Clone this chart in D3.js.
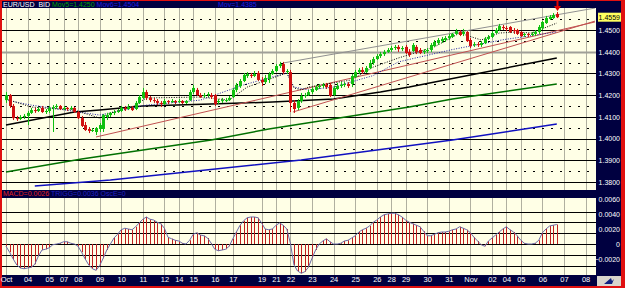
<!DOCTYPE html>
<html><head><meta charset="utf-8">
<script src="https://cdn.jsdelivr.net/npm/d3@7"></script>
<style>html,body{margin:0;padding:0;background:#fff}svg{display:block}text{font-family:"Liberation Sans",Arial,sans-serif}</style>
</head><body><svg id="c" width="625" height="288"></svg>
<script>
// ---------- DATA ----------
const dayLabels = ["Oct","04","05","07","08","09","10","11","12","14","15","16","17","19","21","22","23","24","25","26","28","29","30","31","Nov","02","04","05","06","07","08"];
const dayBars   = [0,6,12,16,20,26,32,38,44,48,52,58,63,71,75,79,85,91,97,103,107,111,117,123,129,135,139,143,149,155,161];

const opens = [1.4177,1.4200,1.4150,1.4094,1.4090,1.4099,1.4104,1.4118,1.4131,1.4127,
1.4141,1.4122,1.4127,1.4141,1.4145,1.4150,1.4136,1.4141,1.4136,1.4141,
1.4122,1.4094,1.4062,1.4044,1.4035,1.4030,1.4044,1.4044,1.4099,1.4108,
1.4118,1.4122,1.4127,1.4141,1.4136,1.4141,1.4136,1.4164,1.4187,1.4214,
1.4187,1.4177,1.4173,1.4164,1.4159,1.4173,1.4168,1.4173,1.4168,1.4173,
1.4164,1.4177,1.4214,1.4224,1.4200,1.4196,1.4200,1.4200,1.4200,1.4168,
1.4173,1.4173,1.4177,1.4191,1.4224,1.4242,1.4265,1.4288,1.4293,1.4288,
1.4302,1.4270,1.4260,1.4274,1.4297,1.4311,1.4334,1.4343,1.4311,1.4306,
1.4164,1.4141,1.4173,1.4196,1.4200,1.4214,1.4224,1.4237,1.4242,1.4247,
1.4247,1.4200,1.4228,1.4242,1.4247,1.4251,1.4251,1.4283,1.4306,1.4316,
1.4306,1.4325,1.4348,1.4366,1.4380,1.4389,1.4399,1.4408,1.4417,1.4422,
1.4412,1.4422,1.4399,1.4403,1.4422,1.4408,1.4399,1.4403,1.4408,1.4426,
1.4440,1.4449,1.4454,1.4463,1.4468,1.4482,1.4491,1.4482,1.4491,1.4454,
1.4431,1.4435,1.4431,1.4440,1.4459,1.4468,1.4486,1.4500,1.4514,1.4509,
1.4514,1.4500,1.4500,1.4491,1.4477,1.4482,1.4477,1.4482,1.4491,1.4509,
1.4532,1.4551,1.4555,1.4574];
const highs = [1.4214,1.4205,1.4159,1.4104,1.4108,1.4113,1.4127,1.4141,1.4141,1.4145,
1.4150,1.4136,1.4150,1.4154,1.4159,1.4154,1.4150,1.4145,1.4150,1.4145,
1.4127,1.4104,1.4076,1.4053,1.4048,1.4053,1.4071,1.4113,1.4118,1.4122,
1.4131,1.4136,1.4150,1.4150,1.4159,1.4150,1.4173,1.4200,1.4233,1.4224,
1.4196,1.4187,1.4182,1.4173,1.4182,1.4177,1.4182,1.4177,1.4182,1.4177,
1.4177,1.4224,1.4247,1.4233,1.4210,1.4210,1.4214,1.4210,1.4205,1.4182,
1.4187,1.4187,1.4196,1.4233,1.4256,1.4274,1.4302,1.4306,1.4302,1.4311,
1.4311,1.4283,1.4293,1.4306,1.4320,1.4343,1.4353,1.4353,1.4320,1.4316,
1.4177,1.4182,1.4210,1.4210,1.4224,1.4237,1.4247,1.4251,1.4256,1.4256,
1.4256,1.4242,1.4256,1.4260,1.4260,1.4260,1.4297,1.4316,1.4325,1.4329,
1.4334,1.4362,1.4376,1.4389,1.4399,1.4408,1.4417,1.4426,1.4431,1.4431,
1.4426,1.4431,1.4412,1.4440,1.4431,1.4417,1.4412,1.4417,1.4440,1.4454,
1.4463,1.4468,1.4472,1.4482,1.4486,1.4505,1.4500,1.4505,1.4495,1.4463,
1.4445,1.4445,1.4449,1.4468,1.4477,1.4495,1.4509,1.4528,1.4523,1.4518,
1.4518,1.4509,1.4505,1.4495,1.4486,1.4486,1.4491,1.4500,1.4523,1.4541,
1.4565,1.4569,1.4578,1.4583];
const lows = [1.4164,1.4141,1.4085,1.4081,1.4085,1.4090,1.4062,1.4113,1.4118,1.4122,
1.4118,1.4113,1.4118,1.4030,1.4136,1.4131,1.4131,1.4127,1.4131,1.4118,
1.4090,1.4053,1.4035,1.4025,1.4030,1.4016,1.4030,1.4030,1.4085,1.4099,
1.4108,1.4118,1.4122,1.4127,1.4131,1.4127,1.4131,1.4159,1.4182,1.4177,
1.4168,1.4164,1.4154,1.4145,1.4154,1.4159,1.4164,1.4159,1.4164,1.4159,
1.4159,1.4173,1.4205,1.4196,1.4187,1.4187,1.4191,1.4182,1.4150,1.4159,
1.4164,1.4168,1.4173,1.4187,1.4214,1.4233,1.4260,1.4279,1.4279,1.4283,
1.4265,1.4242,1.4251,1.4256,1.4293,1.4306,1.4325,1.4297,1.4297,1.4122,
1.4118,1.4131,1.4164,1.4187,1.4196,1.4205,1.4219,1.4228,1.4233,1.4228,
1.4191,1.4196,1.4224,1.4233,1.4237,1.4233,1.4237,1.4279,1.4297,1.4297,
1.4302,1.4320,1.4339,1.4362,1.4371,1.4380,1.4394,1.4399,1.4408,1.4399,
1.4403,1.4389,1.4376,1.4399,1.4389,1.4389,1.4389,1.4394,1.4399,1.4422,
1.4431,1.4440,1.4445,1.4454,1.4463,1.4477,1.4472,1.4472,1.4445,1.4417,
1.4422,1.4422,1.4422,1.4435,1.4454,1.4463,1.4482,1.4495,1.4500,1.4495,
1.4486,1.4482,1.4477,1.4468,1.4468,1.4468,1.4472,1.4472,1.4482,1.4500,
1.4528,1.4546,1.4551,1.4555];
const closes = [1.4200,1.4150,1.4094,1.4090,1.4099,1.4104,1.4118,1.4131,1.4127,1.4136,
1.4122,1.4127,1.4141,1.4145,1.4150,1.4136,1.4141,1.4136,1.4141,1.4122,
1.4094,1.4058,1.4039,1.4035,1.4039,1.4048,1.4062,1.4108,1.4108,1.4118,
1.4122,1.4127,1.4141,1.4136,1.4145,1.4131,1.4164,1.4191,1.4214,1.4187,
1.4177,1.4173,1.4164,1.4159,1.4173,1.4168,1.4173,1.4168,1.4173,1.4164,
1.4173,1.4214,1.4233,1.4200,1.4191,1.4200,1.4205,1.4191,1.4159,1.4173,
1.4177,1.4177,1.4187,1.4224,1.4247,1.4265,1.4293,1.4297,1.4288,1.4297,
1.4270,1.4260,1.4279,1.4297,1.4311,1.4334,1.4343,1.4306,1.4311,1.4164,
1.4136,1.4173,1.4196,1.4200,1.4214,1.4228,1.4237,1.4242,1.4247,1.4237,
1.4196,1.4233,1.4242,1.4247,1.4251,1.4242,1.4288,1.4306,1.4316,1.4306,
1.4325,1.4348,1.4366,1.4380,1.4389,1.4399,1.4408,1.4417,1.4422,1.4412,
1.4417,1.4394,1.4385,1.4431,1.4399,1.4394,1.4403,1.4408,1.4431,1.4445,
1.4454,1.4459,1.4463,1.4472,1.4482,1.4495,1.4477,1.4491,1.4449,1.4426,
1.4435,1.4431,1.4440,1.4459,1.4468,1.4486,1.4500,1.4518,1.4509,1.4505,
1.4491,1.4495,1.4482,1.4472,1.4482,1.4477,1.4482,1.4491,1.4514,1.4537,
1.4555,1.4560,1.4569,1.4559];

const macd = [-0.0003,-0.0011,-0.0020,-0.0028,-0.0032,-0.0033,-0.0032,-0.0031,-0.0027,-0.0016,
-0.0008,-0.0007,-0.0005,-0.0001,0.0000,0.0001,0.0003,0.0003,0.0001,0.0000,
-0.0003,-0.0011,-0.0020,-0.0028,-0.0033,-0.0035,-0.0029,-0.0019,-0.0008,0.0000,
0.0008,0.0013,0.0019,0.0021,0.0020,0.0019,0.0023,0.0028,0.0033,0.0036,
0.0033,0.0032,0.0029,0.0027,0.0021,0.0009,0.0007,0.0005,0.0004,0.0001,
0.0000,0.0005,0.0013,0.0015,0.0012,0.0011,0.0008,0.0001,-0.0007,-0.0009,
-0.0008,-0.0007,-0.0003,0.0007,0.0016,0.0025,0.0031,0.0035,0.0036,0.0036,
0.0035,0.0028,0.0020,0.0019,0.0020,0.0025,0.0028,0.0025,0.0020,0.0001,
-0.0028,-0.0036,-0.0039,-0.0037,-0.0031,-0.0019,-0.0008,0.0000,0.0004,0.0007,
0.0003,0.0000,0.0000,0.0001,0.0004,0.0005,0.0008,0.0011,0.0016,0.0019,
0.0021,0.0024,0.0029,0.0032,0.0036,0.0039,0.0040,0.0041,0.0041,0.0039,
0.0036,0.0032,0.0029,0.0027,0.0025,0.0023,0.0017,0.0011,0.0011,0.0013,
0.0015,0.0016,0.0016,0.0017,0.0019,0.0020,0.0023,0.0021,0.0019,0.0015,
0.0009,0.0004,-0.0001,-0.0003,0.0004,0.0008,0.0012,0.0016,0.0020,0.0023,
0.0019,0.0016,0.0011,0.0005,0.0001,0.0000,0.0000,0.0001,0.0005,0.0015,
0.0020,0.0024,0.0025,0.0026];

// moving-average lines (bar index, price)
const maLongBars  = [0,19,26,38,57,74,91,104,112,129,153];
const maLongVals  = [1.4062,1.4122,1.4131,1.4150,1.4159,1.4168,1.4182,1.4214,1.4237,1.4293,1.4371];
const maGreenBars = [0,21,57,73,112,124,153];
const maGreenVals = [1.3846,1.3906,1.3993,1.4044,1.4145,1.4182,1.4251];
const maBlueBars  = [8,29,82,124,153];
const maBlueVals  = [1.3781,1.3809,1.3901,1.3993,1.4067];
const maFastBars  = [0,7,19,26,29,35,39,54,62,67,78,80,82,84,96,102,109,119,126,132,137,142,146,153];
const maFastVals  = [1.4182,1.4145,1.4131,1.4094,1.4118,1.4145,1.4187,1.4191,1.4177,1.4237,1.4302,1.4233,1.4224,1.4237,1.4270,1.4329,1.4371,1.4422,1.4486,1.4454,1.4486,1.4491,1.4486,1.4532];
const maMidBars   = [0,7,26,39,54,66,78,80,84,91,102,109,124,138,153];
const maMidVals   = [1.4177,1.4154,1.4108,1.4154,1.4177,1.4247,1.4302,1.4237,1.4224,1.4237,1.4290,1.4353,1.4410,1.4455,1.4491];

// trend lines [bar0, price0, bar1, price1]
const trendRedA = [25, 1.4007, 163.6, 1.4537];
const trendRedB = [79.7, 1.4122, 163.6, 1.4541];
const trendGrey = [77, 1.4348, 163.6, 1.4601];

const priceTicks = [1.38,1.39,1.40,1.41,1.42,1.43,1.44,1.45];
const priceHalf  = [1.385,1.395,1.405,1.415,1.425,1.435,1.445,1.455];
const macdTicks  = [0.006,0.004,0.002,0,-0.002];
const macdLevels = [0.0043,0.0029,0.0015,0,-0.0015,-0.0029];

// ---------- LAYOUT ----------
const W=625,H=288;
const L=2,R=596,mainT=8,mainB=190,macdT=198,macdB=275;
const svg=d3.select("#c");
const x=d3.scaleLinear().domain([-1.111,163.889]).range([L,R]);
const y=d3.scaleLinear().domain([1.37627,1.46014]).range([mainB,mainT]);
const ym=d3.scaleLinear().domain([-0.004133,0.006133]).range([macdB,macdT]);
const NAVY="#000040";

svg.append("rect").attr("width",W).attr("height",H).attr("fill","#e01010");
svg.append("rect").attr("x",2).attr("y",1).attr("width",619).attr("height",285).attr("fill",NAVY);
svg.append("rect").attr("x",L).attr("y",mainT).attr("width",R-L).attr("height",mainB-mainT).attr("fill","#ffffe6");
svg.append("rect").attr("x",L).attr("y",macdT).attr("width",R-L).attr("height",macdB-macdT).attr("fill","#ffffe6");

const defs=svg.append("defs");
defs.append("clipPath").attr("id","cm").append("rect").attr("x",L).attr("y",mainT).attr("width",R-L).attr("height",mainB-mainT);
defs.append("clipPath").attr("id","cd").append("rect").attr("x",L).attr("y",macdT).attr("width",R-L).attr("height",macdB-macdT);

const gm=svg.append("g").attr("clip-path","url(#cm)");
const gd=svg.append("g").attr("clip-path","url(#cd)");
const px=v=>Math.round(x(v))+0.5;

// grids
dayBars.forEach(b=>{
  gm.append("line").attr("x1",px(b)).attr("x2",px(b)).attr("y1",mainT).attr("y2",mainB).attr("stroke","#b0b0a0").attr("stroke-width",1);
  gd.append("line").attr("x1",px(b)).attr("x2",px(b)).attr("y1",macdT).attr("y2",macdB).attr("stroke","#b0b0a0").attr("stroke-width",1);
});
priceHalf.forEach(p=>{
  gm.append("line").attr("x1",L).attr("x2",R).attr("y1",Math.round(y(p))+0.5).attr("y2",Math.round(y(p))+0.5)
    .attr("stroke","#000").attr("stroke-dasharray","2,7");
});
priceTicks.forEach(p=>{
  const g=p===1.44;
  gm.append("line").attr("x1",L).attr("x2",R).attr("y1",Math.round(y(p))+0.5).attr("y2",Math.round(y(p))+0.5)
    .attr("stroke",g?"#a0a098":"#000").attr("stroke-width",g?2:1);
});
macdLevels.forEach(v=>{
  gd.append("line").attr("x1",L).attr("x2",R).attr("y1",Math.round(ym(v))+0.5).attr("y2",Math.round(ym(v))+0.5).attr("stroke","#000");
});

// MA lines
const lineOf=(bars,vals)=>d3.line().x((d,i)=>x(bars[i])).y(d=>y(d))(vals);
gm.append("path").attr("d",lineOf(maBlueBars,maBlueVals)).attr("fill","none").attr("stroke","#1010c0").attr("stroke-width",1.5);
gm.append("path").attr("d",lineOf(maGreenBars,maGreenVals)).attr("fill","none").attr("stroke","#007000").attr("stroke-width",1.5);
gm.append("path").attr("d",lineOf(maLongBars,maLongVals)).attr("fill","none").attr("stroke","#000").attr("stroke-width",1.5);
// trend lines
[[trendRedA,"#c05050"],[trendRedB,"#c05050"],[trendGrey,"#909090"]].forEach(([t,c])=>{
  gm.append("line").attr("x1",x(t[0])).attr("y1",y(t[1])).attr("x2",x(t[2])).attr("y2",y(t[3])).attr("stroke",c).attr("stroke-width",1);
});
gm.append("path").attr("d",lineOf(maMidBars,maMidVals)).attr("fill","none").attr("stroke","#2020a0").attr("stroke-width",1).attr("stroke-dasharray","1,1.5");
gm.append("path").attr("d",lineOf(maFastBars,maFastVals)).attr("fill","none").attr("stroke","#000").attr("stroke-width",1).attr("stroke-dasharray","1,1.5");

// candles
closes.forEach((c,i)=>{
  const o=opens[i],up=c>=o,col=up?"#10c010":"#d01010";
  const cx=px(i);
  gm.append("line").attr("x1",cx).attr("x2",cx).attr("y1",y(highs[i])).attr("y2",y(lows[i])).attr("stroke",col).attr("stroke-width",1);
  const t=y(Math.max(o,c)),b=y(Math.min(o,c));
  gm.append("rect").attr("x",cx-1.5).attr("y",t).attr("width",3).attr("height",Math.max(1,b-t)).attr("fill",col);
});

// MACD histogram
macd.forEach((v,i)=>{
  gd.append("line").attr("x1",px(i)).attr("x2",px(i)).attr("y1",ym(0)).attr("y2",ym(v)).attr("stroke","#c02020").attr("stroke-width",1);
});
gd.append("path").attr("d",d3.line().x((d,i)=>x(i)).y(d=>ym(d))(macd)).attr("fill","none").attr("stroke","#6a6aa8").attr("stroke-width",1);

// arrow on last bar
const lb=closes.length-1, ax=px(lb), at=y(highs[lb])-1;
svg.append("line").attr("x1",ax).attr("x2",ax).attr("y1",at-10).attr("y2",at-3).attr("stroke","#e00000").attr("stroke-width",2);
svg.append("path").attr("d",`M${ax-3.5},${at-5}L${ax+3.5},${at-5}L${ax},${at}Z`).attr("fill","#e00000");

// right price axis
const ra=svg.append("g").attr("transform",`translate(${R},0)`)
  .call(d3.axisRight(y).tickValues(priceTicks).tickFormat(d3.format(".4f")).tickSize(0));
ra.select(".domain").remove();
ra.selectAll("text").attr("x",24).attr("text-anchor","end").attr("fill","#fff").style("font-size","7px").attr("dy","0.35em");
// last price box
const lp=closes[lb];
svg.append("rect").attr("x",598).attr("y",y(lp)-4.5).attr("width",23).attr("height",9).attr("fill","#ffff60");
svg.append("text").attr("x",620).attr("y",y(lp)).attr("dy","0.35em").attr("text-anchor","end").style("font-size","7px").attr("fill","#000").text(d3.format(".4f")(lp));

// macd axis
const ma=svg.append("g").attr("transform",`translate(${R},0)`)
  .call(d3.axisRight(ym).tickValues(macdTicks).tickFormat(d=>d===0?"0":d3.format(".4f")(d)).tickSize(0));
ma.select(".domain").remove();
ma.selectAll("text").attr("x",24).attr("text-anchor","end").attr("fill","#fff").style("font-size","7px").attr("dy","0.35em");

// date axis
const da=svg.append("g").attr("transform",`translate(0,${macdB})`)
  .call(d3.axisBottom(x).tickValues(dayBars).tickFormat((d,i)=>dayLabels[i]).tickSize(0));
da.select(".domain").remove();
da.selectAll("text").attr("fill","#fff").style("font-size","7.5px").attr("y",2).attr("dy","0.71em");

// corner icon
svg.append("rect").attr("x",597).attr("y",276).attr("width",24).attr("height",10).attr("fill","#d8d4cc");
svg.append("path").attr("d","M604,284L611,278L612,281L614,279L612,284Z").attr("fill","#102080");

// titles
const t1=svg.append("text").attr("x",3).attr("y",7).style("font-size","7px");
t1.append("tspan").attr("fill","#fff").text("EUR/USD_BID ");
t1.append("tspan").attr("fill","#00a000").text("Mov5=1.4250 ");
t1.append("tspan").attr("fill","#2020e0").text("Mov6=1.4504");
svg.append("text").attr("x",218).attr("y",7).style("font-size","7px").attr("fill","#2020e0").text("Mov=1.4385");
const t2=svg.append("text").attr("x",3).attr("y",196).style("font-size","7px");
t2.append("tspan").attr("fill","#e02020").text("MACD=0.0026 ");
t2.append("tspan").attr("fill","#2020c0").text("TRIGG=0.0036 OscE=0");
</script></body></html>
